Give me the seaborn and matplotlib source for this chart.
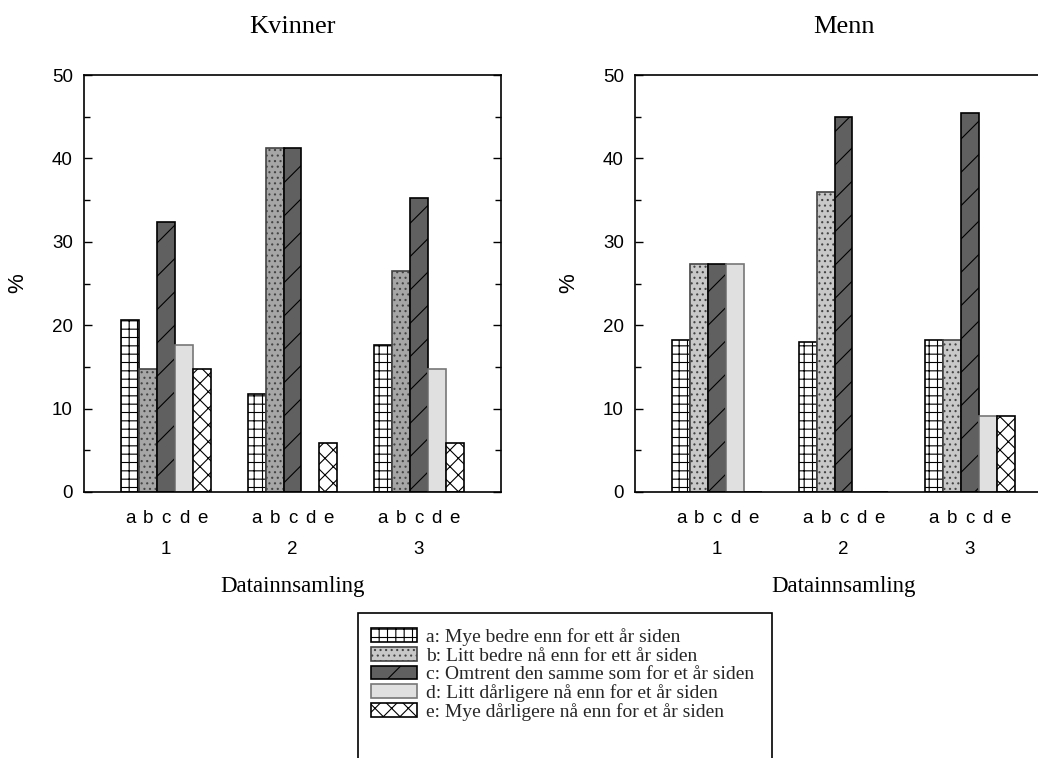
import matplotlib
matplotlib.use("Agg")
import matplotlib.pyplot as plt
from matplotlib.patches import Patch, Rectangle
import numpy as np
import pandas as pd
import seaborn as sns

# ---------------- data ----------------
groups = ["1", "2", "3"]
cats = ["a", "b", "c", "d", "e"]
cat_labels = [
    "a: Mye bedre enn for ett år siden",
    "b: Litt bedre nå enn for ett år siden",
    "c: Omtrent den samme som for et år siden",
    "d: Litt dårligere nå enn for et år siden",
    "e: Mye dårligere nå enn for et år siden",
]
panel_titles = ["Kvinner", "Menn"]

kvinner_a = [20.6, 11.8, 17.6]
kvinner_b = [14.7, 41.2, 26.5]
kvinner_c = [32.4, 41.2, 35.3]
kvinner_d = [17.6, 0.0, 14.7]
kvinner_e = [14.7, 5.9, 5.9]

menn_a = [18.2, 18.0, 18.2]
menn_b = [27.3, 36.0, 18.2]
menn_c = [27.3, 45.0, 45.5]
menn_d = [27.3, 0.0, 9.1]
menn_e = [0.0, 0.0, 9.1]

# ---------------- style ----------------
sns.set_theme(style="white")
plt.rcParams["font.family"] = ["Liberation Sans", "DejaVu Sans"]
plt.rcParams["hatch.linewidth"] = 0.8
serif = ["Liberation Serif", "DejaVu Serif"]

hatches = {"a": "++", "b": "...", "c": "/", "d": "", "e": "xx"}
colors_k = {"a": "#ffffff", "b": "#a6a6a6", "c": "#606060", "d": "#e0e0e0", "e": "#ffffff"}
colors_m = {"a": "#ffffff", "b": "#c8c8c8", "c": "#606060", "d": "#e0e0e0", "e": "#ffffff"}
edges = {"a": "black", "b": "#444444", "c": "black", "d": "#777777", "e": "black"}


def make_df(a, b, c, d, e):
    rows = []
    for cat, vals in zip(cats, [a, b, c, d, e]):
        for g, v in zip(groups, vals):
            rows.append({"group": g, "cat": cat, "value": v})
    return pd.DataFrame(rows)


dfs = [
    make_df(kvinner_a, kvinner_b, kvinner_c, kvinner_d, kvinner_e),
    make_df(menn_a, menn_b, menn_c, menn_d, menn_e),
]
palettes = [colors_k, colors_m]

W, H = 1038, 758
fig = plt.figure(figsize=(W / 100, H / 100), dpi=100)
ax_rects = [
    [84 / W, (H - 492) / H, 417 / W, 417 / H],
    [635 / W, (H - 492) / H, 417 / W, 417 / H],
]

for i, (df, pal, rect, title) in enumerate(zip(dfs, palettes, ax_rects, panel_titles)):
    ax = fig.add_axes(rect)
    sns.barplot(
        data=df, x="group", y="value", hue="cat",
        order=groups, hue_order=cats, palette=pal,
        width=0.71, saturation=1, errorbar=None, legend=False,
        edgecolor="black", linewidth=1.2, ax=ax,
    )
    centers = []
    letters = []
    for cat, cont in zip(cats, ax.containers):
        for p in cont.patches:
            p.set_hatch(hatches[cat])
            p.set_edgecolor(edges[cat])
            centers.append(p.get_x() + p.get_width() / 2)
            letters.append(cat)
    ax.set_xlim(-0.65, 2.65)
    ax.set_ylim(0, 50)
    ax.set_yticks(np.arange(0, 51, 10))
    ax.set_yticks(np.arange(5, 50, 10), minor=True)
    ax.xaxis.remove_overlapping_locs = False
    ax.set_xticks(range(len(groups)))
    ax.set_xticklabels(groups)
    ax.set_xticks(centers, minor=True)
    ax.set_xticklabels(letters, minor=True)
    ax.tick_params(axis="x", which="both", length=0, labelsize=13.5, colors="black")
    ax.tick_params(axis="x", which="minor", pad=13)
    ax.tick_params(axis="x", which="major", pad=35)
    ax.tick_params(axis="y", which="both", direction="in", left=True, right=True,
                   labelsize=13.5, colors="black", width=1.0)
    ax.tick_params(axis="y", which="major", length=6, pad=8)
    ax.tick_params(axis="y", which="minor", length=4)
    for s in ax.spines.values():
        s.set_visible(True)
        s.set_color("black")
        s.set_linewidth(1.2)
    ax.set_xlabel("Datainnsamling", fontsize=16.5, family=serif, labelpad=13, color="black")
    ax.set_ylabel("%", fontsize=16, labelpad=17, color="black")
    ax.set_title(title, fontsize=19, family=serif, pad=30, color="black")

# legend
handles = [
    Patch(facecolor=colors_m[c], edgecolor=edges[c], hatch=hatches[c], linewidth=1.2)
    for c in cats
]
fig.legend(
    handles, cat_labels, loc="upper left",
    bbox_to_anchor=(371 / W, 1 - 628 / H), bbox_transform=fig.transFigure,
    frameon=False, borderpad=0, borderaxespad=0,
    prop={"family": serif, "size": 14},
    handlelength=2.37, handleheight=0.72, handletextpad=0.46, labelspacing=0.05,
)
fig.add_artist(Rectangle((358 / W, -0.05), (772 - 358) / W, (H - 613) / H + 0.05,
                         transform=fig.transFigure, fill=False, edgecolor="black",
                         linewidth=1.2))

fig.savefig("out.png", dpi=100)
